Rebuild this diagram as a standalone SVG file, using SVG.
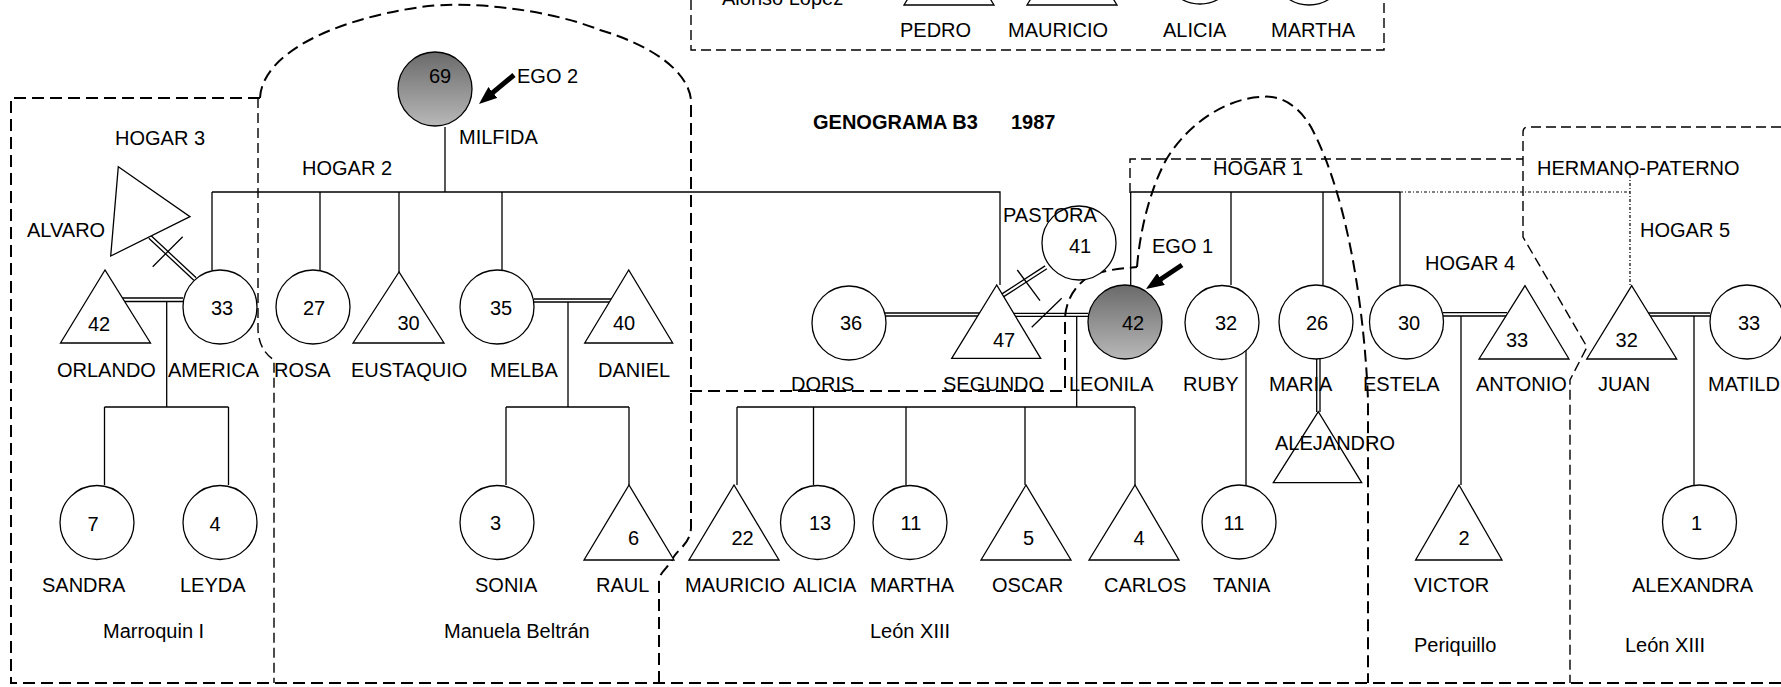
<svg xmlns="http://www.w3.org/2000/svg" width="1781" height="687" viewBox="0 0 1781 687">
<style>
text{font-family:"Liberation Sans",Arial,sans-serif;font-size:20px;fill:#000}
.c{text-anchor:middle}
.b{font-weight:bold}
.n{fill:#fff;stroke:#000;stroke-width:1.3}
.g{fill:url(#gr);stroke:#000;stroke-width:1.3}
.l{fill:none;stroke:#000;stroke-width:1.3}
.d{fill:none;stroke:#000;stroke-width:2;stroke-dasharray:12 6}
.d2{fill:none;stroke:#000;stroke-width:1.4;stroke-dasharray:10 5}
.dt{fill:none;stroke:#000;stroke-width:1.2;stroke-dasharray:3 2 1 2}
.ar{stroke:#000;stroke-width:5;marker-end:url(#ah)}
</style>
<defs>
<linearGradient id="gr" x1="0" y1="0" x2="0" y2="1"><stop offset="0" stop-color="#6a6a6a"/><stop offset="1" stop-color="#b8b8b8"/></linearGradient>
<marker id="ah" markerUnits="userSpaceOnUse" markerWidth="20" markerHeight="14" refX="8" refY="7" orient="auto"><path d="M0,0 L18,7 L0,14 Z" fill="#000"/></marker>
</defs>
<rect width="1781" height="687" fill="#fff"/>

<g id="boundaries">
<path class="d" d="M260,98 H11 V683 H1781"/>
<path class="d2" d="M258,98 V330 Q259,350 274,360 V683"/>
<path class="d" d="M260,98 C262,55 330,20 421,7 C470,0 550,10 600,30 C650,45 688,70 691,100 V528 C690,545 676,550 672,560 C668,568 659,572 659,582 V683"/>
<path class="d" d="M690,391 H1065 V318 C1066,300 1075,285 1090,276 C1100,271 1115,269 1137,267"/>
<path class="d" d="M1137,267 C1140,230 1150,190 1166,160 C1190,120 1230,98 1261,97 C1275,95 1295,100 1311,127 C1350,200 1365,320 1368,400 V683"/>
<path class="d2" d="M1130,193 V159 H1523"/>
<path class="d2" d="M1781,127 H1528 Q1523,127 1523,132 V237 L1587,347 L1570,380 V683"/>
<path class="d2" d="M691,0 V50 H1384 V0"/>
</g>

<g id="connectors">
<!-- Milfida sibship -->
<path class="l" d="M445,127 V192 M212,192 H1000 V285 M212,192 V270 M320,192 V270 M399,192 V272 M502,192 V270"/>
<!-- Orlando-America -->
<path class="l" d="M120,298 H183 M120,301.5 H183 M166.7,301.5 V407 M104.5,407 H228.5 M104.5,407 V485 M228.5,407 V485"/>
<!-- Alvaro-America -->
<path class="l" d="M148.8,238.2 L193.8,280.2 M151.2,235.8 L196.2,277.8 M152.7,266.7 L182.7,236.7"/>
<!-- Melba-Daniel -->
<path class="l" d="M534,299 H611 M534,302 H610 M568,302 V407 M506,407 H629 M506,407 V485 M629,407 V485"/>
<!-- Doris-Segundo -->
<path class="l" d="M885,313 H981 M885,316 H980"/>
<!-- Segundo-Pastora -->
<path class="l" d="M1000.8,294.6 L1045.1,265.9 M1002.6,297.4 L1046.9,268.7 M1017.3,270 L1040,300.7"/>
<!-- Segundo-Leonila -->
<path class="l" d="M1010,313.3 H1088.3 M1011,316.3 H1088.5 M1031.7,327.3 L1061.7,298.3 M1076.7,316 V407 M737,407 H1135 M737,407 V485 M813.5,407 V485 M906,407 V485 M1025,407 V485 M1135,407 V485"/>
<!-- Hogar 1 sibship -->
<path class="l" d="M1130.7,192 H1400 M1130.7,192 V285 M1231,192 V285 M1323,192 V285 M1400,192 V285"/>
<path class="dt" d="M1400,192 H1630 M1630,175 V285"/>
<!-- Ruby-Tania -->
<path class="l" d="M1246,347 V485"/>
<!-- Maria-Alejandro -->
<path class="l" d="M1316.7,359 V412 M1320,359 V412"/>
<!-- Estela-Antonio -->
<path class="l" d="M1443,312.7 H1507 M1443,316 H1506 M1461,316 V485"/>
<!-- Juan-Matilde -->
<path class="l" d="M1648,313 H1710 M1649,316 H1710 M1694,316 V485"/>
<!-- EGO arrows -->
<line class="ar" x1="514" y1="75" x2="486.7" y2="97.6"/>
<line class="ar" x1="1182" y1="265" x2="1154.3" y2="283.5"/>
</g>

<g id="top-box">
<text x="722" y="5">Alonso López</text>
<g id="pedro"><polygon class="n" points="949,-68 904,5 994,5"/><text x="900" y="37">PEDRO</text></g>
<g id="mauricio-top"><polygon class="n" points="1072,-68 1027,5 1117,5"/><text x="1008" y="37">MAURICIO</text></g>
<g id="alicia-top"><circle class="n" cx="1200" cy="-33" r="37"/><text x="1163" y="37">ALICIA</text></g>
<g id="martha-top"><circle class="n" cx="1309" cy="-32" r="37"/><text x="1271" y="37">MARTHA</text></g>
</g>

<g id="titles">
<text class="b" x="813" y="129">GENOGRAMA B3</text>
<text class="b" x="1011" y="129">1987</text>
<text x="115" y="145">HOGAR 3</text>
<text x="302" y="175">HOGAR 2</text>
<text x="1213" y="175">HOGAR 1</text>
<text x="1537" y="175">HERMANO-PATERNO</text>
<text x="1640" y="237">HOGAR 5</text>
<text x="1425" y="270">HOGAR 4</text>
<text x="517" y="83">EGO 2</text>
<text x="1152" y="253">EGO 1</text>
<text x="103" y="638">Marroquin I</text>
<text x="444" y="638">Manuela Beltrán</text>
<text x="870" y="638">León XIII</text>
<text x="1414" y="652">Periquillo</text>
<text x="1625" y="652">León XIII</text>
</g>

<g id="milfida"><circle class="g" cx="435" cy="89" r="37"/><text class="c" x="440" y="83">69</text><text x="459" y="144">MILFIDA</text></g>
<g id="alvaro"><polygon class="n" points="118.3,166.7 190,216.7 110.7,256"/><text x="27" y="237">ALVARO</text></g>
<g id="orlando"><polygon class="n" points="105,270 60.5,343 150.5,343"/><text class="c" x="99" y="331">42</text><text x="57" y="377">ORLANDO</text></g>
<g id="america"><circle class="n" cx="220" cy="307" r="37"/><text class="c" x="222" y="315">33</text><text x="168" y="377">AMERICA</text></g>
<g id="rosa"><circle class="n" cx="313" cy="307" r="37"/><text class="c" x="314" y="315">27</text><text x="274" y="377">ROSA</text></g>
<g id="eustaquio"><polygon class="n" points="399,272 353,343 444,343"/><text class="c" x="408.6" y="330">30</text><text x="351" y="377">EUSTAQUIO</text></g>
<g id="melba"><circle class="n" cx="497" cy="307" r="37"/><text class="c" x="501" y="315">35</text><text x="490" y="377">MELBA</text></g>
<g id="daniel"><polygon class="n" points="628.7,270 584.7,343 672.7,343"/><text class="c" x="624" y="330">40</text><text x="598" y="377">DANIEL</text></g>

<g id="sandra"><circle class="n" cx="97" cy="522.5" r="37"/><text class="c" x="93" y="531">7</text><text x="42" y="592">SANDRA</text></g>
<g id="leyda"><circle class="n" cx="220" cy="522.5" r="37"/><text class="c" x="215" y="531">4</text><text x="180" y="592">LEYDA</text></g>
<g id="sonia"><circle class="n" cx="497" cy="522.5" r="37"/><text class="c" x="495.6" y="530">3</text><text x="475" y="592">SONIA</text></g>
<g id="raul"><polygon class="n" points="629,485 584,560 674,560"/><text class="c" x="633.5" y="545">6</text><text x="596" y="592">RAUL</text></g>

<g id="doris"><circle class="n" cx="849" cy="323" r="37"/><text class="c" x="851" y="330">36</text><text x="791" y="391">DORIS</text></g>
<g id="segundo"><polygon class="n" points="996.7,285 951.7,358.3 1040.7,358.3"/><text class="c" x="1004" y="347">47</text><text x="943" y="391">SEGUNDO</text></g>
<g id="pastora"><circle class="n" cx="1079" cy="243" r="37"/><text class="c" x="1080" y="253">41</text><text x="1003" y="222">PASTORA</text></g>
<g id="leonila"><circle class="g" cx="1125" cy="322" r="37"/><text class="c" x="1133" y="330">42</text><text x="1069" y="391">LEONILA</text></g>
<g id="ruby"><circle class="n" cx="1222" cy="322.5" r="37"/><text class="c" x="1226" y="330">32</text><text x="1183" y="391">RUBY</text></g>
<g id="maria"><circle class="n" cx="1316" cy="322" r="37"/><text class="c" x="1317" y="330">26</text><text x="1269" y="391">MARIA</text></g>
<g id="estela"><circle class="n" cx="1406.5" cy="322" r="37"/><text class="c" x="1409" y="330">30</text><text x="1363" y="391">ESTELA</text></g>
<g id="antonio"><polygon class="n" points="1525,285.7 1479,359 1569,359"/><text class="c" x="1517" y="347">33</text><text x="1476" y="391">ANTONIO</text></g>
<g id="juan"><polygon class="n" points="1631.7,285.7 1586.7,359 1676.7,359"/><text class="c" x="1626.7" y="347">32</text><text x="1598" y="391">JUAN</text></g>
<g id="matilde"><circle class="n" cx="1747" cy="322" r="37"/><text class="c" x="1749" y="330">33</text><text x="1708" y="391">MATILD</text></g>

<g id="mauricio"><polygon class="n" points="734,485 689,560 779,560"/><text class="c" x="742.5" y="545">22</text><text x="685" y="592">MAURICIO</text></g>
<g id="alicia"><circle class="n" cx="817.5" cy="522.5" r="37"/><text class="c" x="820" y="530">13</text><text x="793" y="592">ALICIA</text></g>
<g id="martha"><circle class="n" cx="910" cy="522.5" r="37"/><text class="c" x="911" y="530">11</text><text x="870" y="592">MARTHA</text></g>
<g id="oscar"><polygon class="n" points="1026,485 981,560 1071,560"/><text class="c" x="1028.6" y="545">5</text><text x="992" y="592">OSCAR</text></g>
<g id="carlos"><polygon class="n" points="1135,485 1089,560 1179,560"/><text class="c" x="1139" y="545">4</text><text x="1104" y="592">CARLOS</text></g>
<g id="alejandro"><polygon class="n" points="1318.3,411.7 1273.3,482.7 1361.7,482.7"/><text x="1275" y="450">ALEJANDRO</text></g>
<g id="tania"><circle class="n" cx="1239" cy="522" r="37"/><text class="c" x="1234" y="530">11</text><text x="1213" y="592">TANIA</text></g>
<g id="victor"><polygon class="n" points="1459,485 1415.6,560 1502,560"/><text class="c" x="1464" y="545">2</text><text x="1414" y="592">VICTOR</text></g>
<g id="alexandra"><circle class="n" cx="1699.5" cy="522" r="37"/><text class="c" x="1696.5" y="530">1</text><text x="1632" y="592">ALEXANDRA</text></g>
</svg>
